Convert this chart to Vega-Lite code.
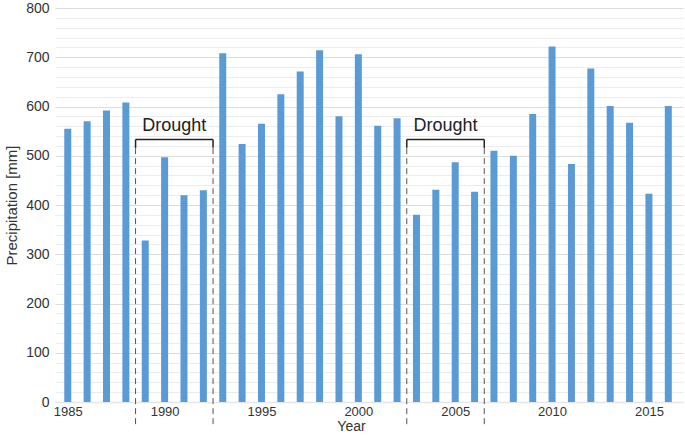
{
  "$schema": "https://vega.github.io/schema/vega-lite/v6.json",
  "width": 628,
  "height": 394,
  "autosize": {"type": "none"},
  "padding": {"left": 55, "top": 8, "right": 2, "bottom": 35},
  "background": "white",
  "config": {
    "view": {"stroke": null},
    "font": "Liberation Sans",
    "axis": {"labelFont": "Liberation Sans", "titleFont": "Liberation Sans", "labelColor": "#333", "titleColor": "#333", "titleFontWeight": "normal"}
  },
  "layer": [
    {
      "data": {"values": [
        {"Year": 1985, "P": 555}, {"Year": 1986, "P": 570}, {"Year": 1987, "P": 592}, {"Year": 1988, "P": 608},
        {"Year": 1989, "P": 328}, {"Year": 1990, "P": 497}, {"Year": 1991, "P": 420}, {"Year": 1992, "P": 430},
        {"Year": 1993, "P": 708}, {"Year": 1994, "P": 524}, {"Year": 1995, "P": 565}, {"Year": 1996, "P": 625},
        {"Year": 1997, "P": 671}, {"Year": 1998, "P": 714}, {"Year": 1999, "P": 580}, {"Year": 2000, "P": 706},
        {"Year": 2001, "P": 561}, {"Year": 2002, "P": 576}, {"Year": 2003, "P": 380}, {"Year": 2004, "P": 431},
        {"Year": 2005, "P": 487}, {"Year": 2006, "P": 427}, {"Year": 2007, "P": 510}, {"Year": 2008, "P": 500},
        {"Year": 2009, "P": 585}, {"Year": 2010, "P": 722}, {"Year": 2011, "P": 483}, {"Year": 2012, "P": 677},
        {"Year": 2013, "P": 601}, {"Year": 2014, "P": 567}, {"Year": 2015, "P": 423}, {"Year": 2016, "P": 601}
      ]},
      "mark": {"type": "bar", "size": 7, "color": "#5B9BD5"},
      "encoding": {
        "x": {"field": "Year", "type": "quantitative", "scale": {"domain": [1984.6, 2016.5], "nice": false, "zero": false},
          "axis": {"values": [1985, 1990, 1995, 2000, 2005, 2010, 2015], "format": "d", "ticks": false, "grid": false, "domainColor": "#e6e6e6", "domainWidth": 1.5, "labelFontSize": 13, "labelPadding": 3, "labelOverlap": false, "title": "Year", "titleFontSize": 14, "titlePadding": 1, "titleX": 296, "titleAnchor": "middle"}},
        "y": {"field": "P", "type": "quantitative", "scale": {"domain": [0, 800], "nice": false},
          "axis": {"values": [0,20,40,60,80,100,120,140,160,180,200,220,240,260,280,300,320,340,360,380,400,420,440,460,480,500,520,540,560,580,600,620,640,660,680,700,720,740,760,780,800],
            "tickCount": 100,
            "labelExpr": "datum.value % 100 === 0 ? datum.label : ''",
            "labelOverlap": false,
            "gridColor": {"condition": {"test": "datum.value % 100 === 0", "value": "#dcdcdc"}, "value": "#ececec"},
            "domain": false, "ticks": false, "labelFontSize": 14, "labelPadding": 6,
            "title": "Precipitation [mm]", "titleFontSize": 15, "titlePadding": 6}}
      }
    },
    {
      "data": {"values": [{"x": 1988.5}, {"x": 1992.5}, {"x": 2002.5}, {"x": 2006.5}]},
      "mark": {"type": "rule", "color": "#555", "strokeDash": [6, 4], "strokeWidth": 1},
      "encoding": {"x": {"field": "x", "type": "quantitative"}, "y": {"datum": -45}, "y2": {"datum": 516}}
    },
    {
      "data": {"values": [{"x": 1988.5}, {"x": 1992.5}, {"x": 2002.5}, {"x": 2006.5}]},
      "mark": {"type": "rule", "color": "#222", "strokeWidth": 1.5},
      "encoding": {"x": {"field": "x", "type": "quantitative"}, "y": {"datum": 533}, "y2": {"datum": 516}}
    },
    {
      "data": {"values": [{"a": 1988.5, "b": 1992.5}, {"a": 2002.5, "b": 2006.5}]},
      "mark": {"type": "rule", "color": "#222", "strokeWidth": 1.5},
      "encoding": {"x": {"field": "a", "type": "quantitative"}, "x2": {"field": "b"}, "y": {"datum": 533}}
    },
    {
      "data": {"values": [{"x": 1990.5, "t": "Drought"}, {"x": 2004.5, "t": "Drought"}]},
      "mark": {"type": "text", "fontSize": 18, "color": "#222", "baseline": "bottom", "dy": -4},
      "encoding": {"x": {"field": "x", "type": "quantitative"}, "y": {"datum": 533}, "text": {"field": "t"}}
    }
  ]
}
